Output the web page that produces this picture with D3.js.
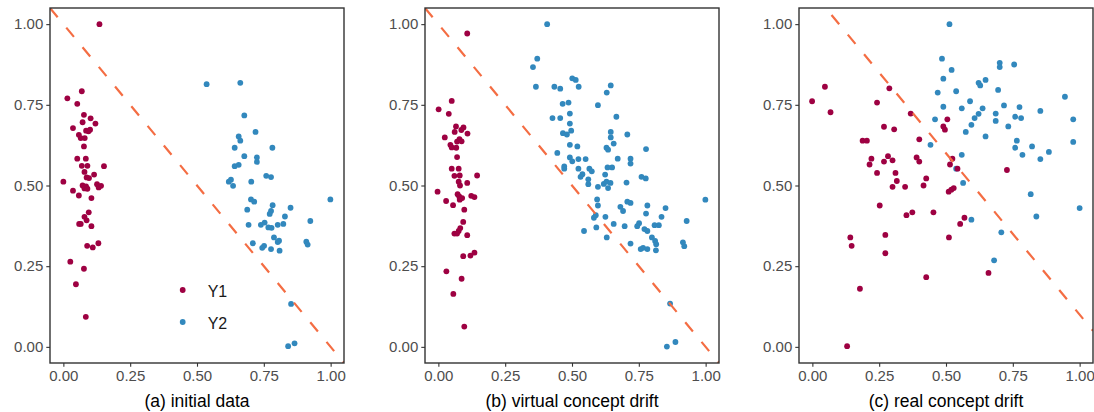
<!DOCTYPE html>
<html>
<head>
<meta charset="utf-8">
<script src="https://cdn.jsdelivr.net/npm/d3@7"></script>
<style>
    body { margin: 0; background: #fff; }
    svg { display: block; font-family: "Liberation Sans", Arial, sans-serif; }
</style>
</head>
<body>
<svg id="chart"></svg>
<script>
const tickValues = [0, 0.25, 0.5, 0.75, 1];
const panelTitles = ["(a) initial data", "(b) virtual concept drift", "(c) real concept drift"];
const lineIntercepts = [1, 1, 1.1];
const classNames = ["Y1", "Y2"];

const initY1 = [[0.135,1.00],[0.069,0.792],[0.015,0.770],[0.052,0.753],[0.077,0.719],[0.102,0.708],[0.072,0.696],[0.120,0.692],[0.036,0.678],[0.085,0.670],[0.100,0.673],[0.058,0.657],[0.065,0.647],[0.080,0.647],[0.094,0.668],[0.077,0.621],[0.052,0.583],[0.084,0.583],[0.152,0.560],[0.069,0.561],[0.090,0.561],[0.079,0.542],[0.115,0.534],[0.087,0.525],[0.096,0.523],[0.000,0.512],[0.072,0.500],[0.085,0.497],[0.126,0.504],[0.141,0.499],[0.132,0.494],[0.079,0.491],[0.090,0.490],[0.036,0.484],[0.058,0.469],[0.105,0.461],[0.095,0.417],[0.079,0.403],[0.087,0.392],[0.065,0.381],[0.059,0.381],[0.105,0.374],[0.131,0.321],[0.110,0.308],[0.089,0.313],[0.026,0.264],[0.077,0.242],[0.047,0.194],[0.084,0.093]];

const initY2 = [[0.536,0.814],[0.662,0.818],[0.677,0.717],[0.719,0.666],[0.656,0.652],[0.662,0.639],[0.641,0.617],[0.782,0.617],[0.677,0.591],[0.724,0.587],[0.724,0.573],[0.641,0.560],[0.656,0.564],[0.759,0.530],[0.777,0.526],[0.627,0.518],[0.619,0.512],[0.703,0.512],[0.635,0.499],[0.999,0.457],[0.702,0.457],[0.714,0.450],[0.783,0.439],[0.850,0.431],[0.688,0.425],[0.777,0.421],[0.772,0.412],[0.829,0.404],[0.924,0.390],[0.693,0.378],[0.739,0.378],[0.753,0.385],[0.767,0.370],[0.779,0.369],[0.802,0.378],[0.823,0.381],[0.788,0.339],[0.807,0.329],[0.802,0.325],[0.909,0.326],[0.914,0.317],[0.709,0.321],[0.751,0.313],[0.744,0.307],[0.777,0.303],[0.809,0.298],[0.852,0.133],[0.841,0.002],[0.865,0.011]];

const virtualY1 = [[0.108,0.971],[0.050,0.762],[0.001,0.736],[0.039,0.722],[0.066,0.683],[0.094,0.680],[0.086,0.672],[0.061,0.666],[0.109,0.661],[0.024,0.649],[0.079,0.644],[0.070,0.636],[0.087,0.637],[0.045,0.626],[0.050,0.618],[0.067,0.617],[0.070,0.588],[0.050,0.552],[0.076,0.552],[0.060,0.530],[0.080,0.531],[0.145,0.531],[0.076,0.512],[0.108,0.508],[0.081,0.500],[-0.003,0.481],[0.072,0.473],[0.078,0.466],[0.089,0.461],[0.123,0.468],[0.135,0.464],[0.080,0.456],[0.029,0.452],[0.055,0.439],[0.097,0.425],[0.093,0.387],[0.082,0.368],[0.076,0.359],[0.060,0.351],[0.070,0.351],[0.108,0.346],[0.135,0.292],[0.120,0.283],[0.093,0.281],[0.030,0.234],[0.087,0.211],[0.056,0.164],[0.097,0.063]];

const virtualY2 = [[0.407,1.000],[0.370,0.893],[0.354,0.867],[0.365,0.806],[0.501,0.832],[0.514,0.827],[0.434,0.806],[0.456,0.800],[0.525,0.806],[0.645,0.810],[0.630,0.788],[0.465,0.753],[0.487,0.757],[0.597,0.749],[0.492,0.723],[0.427,0.709],[0.456,0.709],[0.666,0.713],[0.492,0.692],[0.497,0.670],[0.466,0.662],[0.481,0.658],[0.645,0.666],[0.645,0.649],[0.707,0.658],[0.492,0.626],[0.520,0.621],[0.656,0.630],[0.629,0.617],[0.635,0.611],[0.777,0.613],[0.445,0.601],[0.492,0.587],[0.501,0.575],[0.524,0.582],[0.551,0.582],[0.671,0.583],[0.719,0.583],[0.719,0.568],[0.471,0.559],[0.471,0.552],[0.524,0.552],[0.565,0.552],[0.574,0.544],[0.633,0.556],[0.650,0.556],[0.539,0.535],[0.532,0.527],[0.624,0.534],[0.760,0.527],[0.776,0.522],[0.561,0.519],[0.561,0.504],[0.619,0.505],[0.629,0.512],[0.644,0.508],[0.704,0.509],[0.597,0.496],[0.635,0.492],[0.594,0.457],[0.597,0.438],[0.707,0.450],[0.719,0.446],[0.999,0.456],[0.681,0.434],[0.691,0.421],[0.782,0.438],[0.850,0.430],[0.777,0.413],[0.589,0.408],[0.582,0.400],[0.625,0.403],[0.835,0.403],[0.929,0.390],[0.751,0.383],[0.744,0.374],[0.656,0.381],[0.697,0.374],[0.809,0.377],[0.825,0.377],[0.771,0.365],[0.782,0.359],[0.591,0.370],[0.545,0.359],[0.630,0.339],[0.799,0.339],[0.811,0.328],[0.815,0.318],[0.719,0.320],[0.915,0.324],[0.920,0.312],[0.757,0.303],[0.766,0.307],[0.782,0.303],[0.814,0.299],[0.867,0.134],[0.855,0.001],[0.887,0.015]];

const realY1 = [[0.047,0.806],[-0.001,0.761],[0.068,0.727],[0.288,0.801],[0.242,0.757],[0.368,0.723],[0.268,0.682],[0.306,0.674],[0.188,0.639],[0.204,0.639],[0.400,0.643],[0.283,0.591],[0.221,0.583],[0.268,0.574],[0.300,0.578],[0.214,0.565],[0.390,0.587],[0.400,0.574],[0.242,0.539],[0.311,0.539],[0.316,0.514],[0.300,0.496],[0.347,0.496],[0.426,0.522],[0.416,0.500],[0.252,0.438],[0.352,0.408],[0.374,0.417],[0.453,0.417],[0.142,0.339],[0.147,0.313],[0.273,0.347],[0.273,0.290],[0.426,0.216],[0.178,0.180],[0.130,0.002],[0.505,0.705],[0.490,0.683],[0.496,0.673],[0.524,0.583],[0.515,0.565],[0.543,0.552],[0.728,0.548],[0.510,0.481],[0.520,0.487],[0.529,0.492],[0.569,0.400],[0.553,0.381],[0.511,0.339],[0.659,0.229]];

const realY2 = [[0.513,1.000],[0.485,0.893],[0.490,0.831],[0.469,0.788],[0.490,0.744],[0.459,0.705],[0.442,0.626],[0.521,0.858],[0.701,0.880],[0.701,0.867],[0.755,0.875],[0.648,0.827],[0.622,0.818],[0.628,0.810],[0.538,0.792],[0.695,0.796],[0.945,0.775],[0.590,0.761],[0.559,0.739],[0.637,0.739],[0.717,0.748],[0.775,0.743],[0.853,0.731],[0.622,0.722],[0.607,0.709],[0.686,0.723],[0.686,0.700],[0.759,0.713],[0.781,0.709],[0.976,0.705],[0.595,0.688],[0.733,0.683],[0.574,0.666],[0.648,0.652],[0.765,0.639],[0.976,0.635],[0.759,0.617],[0.822,0.621],[0.786,0.595],[0.885,0.604],[0.853,0.582],[0.559,0.595],[0.538,0.552],[0.564,0.508],[0.817,0.473],[1.000,0.430],[0.838,0.404],[0.595,0.394],[0.707,0.355],[0.680,0.268]];

const panelY1 = [initY1, virtualY1, realY1];
const panelY2 = [initY2, virtualY2, realY2];

class ScatterPanel {
    size = { width: 294, height: 355 }

    constructor(svg, index, left, top) {
        this.svg = svg;
        this.index = index;
        this.left = left;
        this.top = top;
    }

    initialize() {
        this.container = this.svg.append("g")
            .attr("transform", `translate(${this.left}, ${this.top})`);
        this.xScale = d3.scaleLinear().domain([-0.05, 1.05]).range([0, this.size.width]);
        this.yScale = d3.scaleLinear().domain([-0.05, 1.05]).range([this.size.height, 0]);
        this.color = d3.scaleOrdinal().domain(classNames).range(["#9E0142", "#3288BD"]);
    }

    draw() {
        const fmt = d3.format(".2f");
        const xAxis = this.container.append("g")
            .attr("transform", `translate(0, ${this.size.height})`)
            .call(d3.axisBottom(this.xScale).tickValues(tickValues).tickFormat(fmt).tickSize(3.7).tickPadding(4));
        const yAxis = this.container.append("g")
            .call(d3.axisLeft(this.yScale).tickValues(tickValues).tickFormat(fmt).tickSize(3.7).tickPadding(3));
        [xAxis, yAxis].forEach(a => {
            a.select(".domain").remove();
            a.selectAll("line").attr("stroke", "#333").attr("stroke-width", 1.1);
            a.selectAll("text").attr("fill", "#4D4D4D").style("font-size", "15px")
                .style("font-family", "'Liberation Sans', Arial, sans-serif");
        });

        const clipId = "clip" + this.index;
        this.container.append("clipPath").attr("id", clipId)
            .append("rect").attr("width", this.size.width).attr("height", this.size.height);
        const plot = this.container.append("g").attr("clip-path", `url(#${clipId})`);

        const pts = [];
        panelY2[this.index].forEach(p => pts.push({ x: p[0], y: p[1], cls: "Y2" }));
        panelY1[this.index].forEach(p => pts.push({ x: p[0], y: p[1], cls: "Y1" }));

        plot.selectAll("circle").data(pts)
            .join("circle")
            .attr("cx", d => this.xScale(d.x))
            .attr("cy", d => this.yScale(d.y))
            .attr("r", 2.9)
            .attr("fill", d => this.color(d.cls));

        const b = lineIntercepts[this.index];
        const x0 = -0.05, x1 = 1.05;
        plot.append("line")
            .attr("x1", this.xScale(x0)).attr("y1", this.yScale(b - x0))
            .attr("x2", this.xScale(x1)).attr("y2", this.yScale(b - x1))
            .attr("stroke", "#F46D43")
            .attr("stroke-width", 2.2)
            .attr("stroke-dasharray", "12 13.5");

        this.container.append("rect")
            .attr("width", this.size.width).attr("height", this.size.height)
            .attr("fill", "none").attr("stroke", "#333").attr("stroke-width", 1.4);

        this.container.append("text")
            .attr("x", this.size.width / 2)
            .attr("y", this.size.height + 44)
            .attr("text-anchor", "middle")
            .style("font-size", "17.5px")
            .attr("fill", "#000")
            .text(panelTitles[this.index]);
    }

    legend(x, y) {
        const g = this.container.append("g");
        classNames.forEach((c, i) => {
            g.append("circle").attr("cx", x).attr("cy", y + i * 32).attr("r", 2.9).attr("fill", this.color(c));
            g.append("text").attr("x", x + 25).attr("y", y + i * 32 + 1.5)
                .attr("dy", "0.35em").style("font-size", "16px").attr("fill", "#1a1a1a").text(c);
        });
    }
}

const svg = d3.select("#chart").attr("width", 1094).attr("height", 412);
const lefts = [50, 425, 799];
lefts.forEach((left, i) => {
    const panel = new ScatterPanel(svg, i, left, 8);
    panel.initialize();
    panel.draw();
    if (i === 0) panel.legend(132.7, 282);
});
</script>
</body>
</html>
